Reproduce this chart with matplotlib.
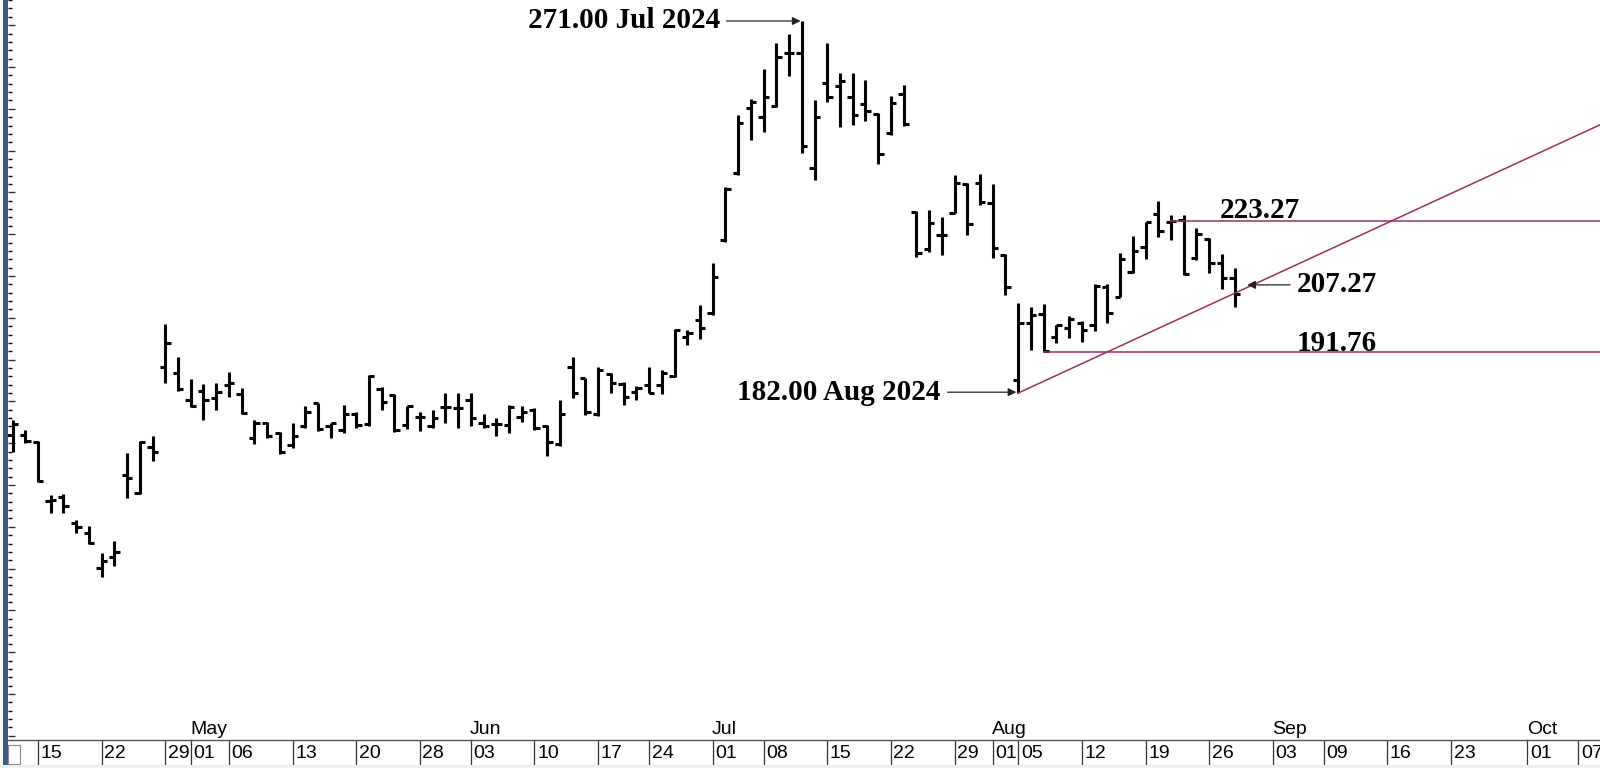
import numpy as np
import matplotlib
matplotlib.use('Agg')
import matplotlib.pyplot as plt
import matplotlib.transforms as mtransforms
from matplotlib import font_manager
from matplotlib.patches import Rectangle
from matplotlib.ticker import MultipleLocator

# daily OHLC bars, Apr 11 - Aug 28 2024
dates = ['2024-04-11', '2024-04-12', '2024-04-15', '2024-04-16', '2024-04-17', '2024-04-18',
         '2024-04-19', '2024-04-22', '2024-04-23', '2024-04-24', '2024-04-25', '2024-04-26',
         '2024-04-29', '2024-04-30', '2024-05-01', '2024-05-02', '2024-05-03', '2024-05-06',
         '2024-05-07', '2024-05-08', '2024-05-09', '2024-05-10', '2024-05-13', '2024-05-14',
         '2024-05-15', '2024-05-16', '2024-05-17', '2024-05-20', '2024-05-21', '2024-05-22',
         '2024-05-23', '2024-05-24', '2024-05-28', '2024-05-29', '2024-05-30', '2024-05-31',
         '2024-06-03', '2024-06-04', '2024-06-05', '2024-06-06', '2024-06-07', '2024-06-10',
         '2024-06-11', '2024-06-12', '2024-06-13', '2024-06-14', '2024-06-17', '2024-06-18',
         '2024-06-20', '2024-06-21', '2024-06-24', '2024-06-25', '2024-06-26', '2024-06-27',
         '2024-06-28', '2024-07-01', '2024-07-02', '2024-07-03', '2024-07-05', '2024-07-08',
         '2024-07-09', '2024-07-10', '2024-07-11', '2024-07-12', '2024-07-15', '2024-07-16',
         '2024-07-17', '2024-07-18', '2024-07-19', '2024-07-22', '2024-07-23', '2024-07-24',
         '2024-07-25', '2024-07-26', '2024-07-29', '2024-07-30', '2024-07-31', '2024-08-01',
         '2024-08-02', '2024-08-05', '2024-08-06', '2024-08-07', '2024-08-08', '2024-08-09',
         '2024-08-12', '2024-08-13', '2024-08-14', '2024-08-15', '2024-08-16', '2024-08-19',
         '2024-08-20', '2024-08-21', '2024-08-22', '2024-08-23', '2024-08-26', '2024-08-27',
         '2024-08-28']
opens = [172.0, 171.9, 170.2, 156.2, 157.2, 150.8, 148.4, 140.1, 142.8, 162.4, 158.2, 169.2,
         188.3, 186.9, 180.3, 182.6, 180.8, 183.9, 181.7, 171.2, 174.9, 172.4, 169.6, 174.1,
         179.5, 174.0, 173.1, 177.0, 174.6, 182.9, 181.5, 174.4, 176.3, 174.0, 178.7, 178.3,
         180.3, 174.8, 174.6, 174.4, 176.3, 177.9, 174.0, 169.8, 188.3, 185.5, 177.1, 186.6,
         184.2, 182.3, 183.9, 183.9, 186.1, 195.3, 199.5, 201.1, 218.6, 234.6, 250.1, 248.0,
         250.7, 263.3, 263.4, 235.8, 256.2, 255.4, 252.7, 251.1, 248.7, 244.1, 253.5, 225.4,
         216.4, 219.8, 225.0, 232.0, 232.3, 227.5, 215.0, 185.0, 198.7, 200.9, 195.5, 197.5,
         198.8, 198.3, 207.4, 204.9, 211.0, 217.0, 224.8, 223.0, 223.3, 214.2, 218.8, 213.0,
         209.4]
highs = [175.5, 173.2, 170.5, 157.6, 157.8, 151.6, 150.3, 143.7, 146.6, 167.6, 170.5, 171.8,
         198.5, 190.5, 185.3, 184.2, 184.3, 187.1, 183.1, 175.5, 175.0, 172.7, 174.9, 178.9,
         179.7, 174.9, 179.1, 177.5, 186.3, 183.4, 181.8, 178.9, 177.5, 177.9, 182.1, 181.9,
         182.1, 177.1, 176.0, 179.1, 178.9, 178.3, 174.4, 180.3, 190.5, 185.7, 188.3, 186.9,
         184.7, 183.7, 188.3, 187.5, 197.2, 197.1, 203.1, 213.0, 231.2, 248.5, 252.3, 259.5,
         265.7, 267.8, 271.0, 252.0, 265.7, 258.6, 258.6, 257.0, 248.9, 253.1, 255.7, 225.6,
         225.8, 224.2, 234.2, 232.2, 234.4, 232.0, 215.3, 203.5, 202.6, 203.3, 198.3, 200.4,
         199.3, 208.1, 208.1, 215.6, 219.6, 223.0, 228.0, 224.6, 224.6, 221.4, 219.0, 215.3,
         211.8]
lows = [167.9, 170.0, 160.8, 153.2, 153.3, 148.5, 145.9, 138.1, 140.5, 156.8, 157.8, 165.8,
        184.3, 182.6, 178.6, 175.5, 177.9, 181.1, 177.1, 169.8, 171.2, 167.4, 168.8, 173.6,
        173.0, 171.2, 172.5, 173.6, 174.1, 177.9, 172.7, 173.3, 173.0, 173.6, 174.9, 173.6,
        174.0, 173.6, 171.6, 172.4, 175.1, 173.2, 166.9, 169.3, 180.7, 176.7, 176.5, 181.9,
        179.1, 180.3, 181.9, 181.8, 185.9, 193.5, 194.9, 200.7, 218.1, 234.2, 242.5, 244.5,
        250.5, 257.8, 239.5, 233.0, 251.7, 245.7, 246.1, 247.1, 236.8, 243.7, 245.9, 214.5,
        215.8, 215.0, 225.0, 219.8, 227.0, 214.2, 205.4, 182.0, 192.3, 191.76, 193.9, 195.1,
        194.3, 196.9, 198.7, 204.9, 210.6, 214.0, 219.4, 218.6, 210.2, 213.8, 210.6, 206.8,
        202.5]
closes = [174.6, 170.6, 160.9, 156.4, 155.0, 150.0, 146.2, 141.7, 144.0, 161.6, 170.4, 168.0,
          193.9, 182.9, 178.9, 180.3, 182.3, 184.3, 177.3, 174.9, 171.6, 168.0, 171.6, 177.5,
          173.3, 174.8, 177.1, 174.4, 186.1, 179.9, 173.2, 178.9, 176.2, 176.0, 178.7, 178.3,
          176.0, 174.1, 174.6, 178.6, 177.5, 173.6, 170.4, 177.1, 182.1, 177.5, 187.4, 184.5,
          181.1, 183.1, 182.1, 186.9, 197.1, 196.3, 197.5, 209.8, 230.8, 246.5, 251.7, 252.9,
          262.3, 263.4, 241.1, 248.1, 252.7, 256.7, 248.5, 249.5, 239.3, 251.5, 246.4, 215.4,
          222.6, 219.8, 232.2, 222.4, 227.8, 216.6, 207.4, 198.7, 200.7, 192.0, 198.3, 199.6,
          197.1, 207.6, 201.1, 214.0, 216.0, 222.8, 220.8, 223.2, 210.5, 220.0, 213.0, 209.4,
          205.7]

# date strip
band_dates = ['2024-04-15', '2024-04-22', '2024-04-29', '2024-05-01', '2024-05-06', '2024-05-13',
              '2024-05-20', '2024-05-28', '2024-06-03', '2024-06-10', '2024-06-17', '2024-06-24',
              '2024-07-01', '2024-07-08', '2024-07-15', '2024-07-22', '2024-07-29', '2024-08-01',
              '2024-08-05', '2024-08-12', '2024-08-19', '2024-08-26', '2024-09-03', '2024-09-09',
              '2024-09-16', '2024-09-23', '2024-10-01', '2024-10-07']
month_dates = ['2024-05-01', '2024-06-03', '2024-07-01', '2024-08-01', '2024-09-03', '2024-10-01']
month_names = ['May', 'Jun', 'Jul', 'Aug', 'Sep', 'Oct']
holidays = ['2024-05-27', '2024-06-19', '2024-07-04', '2024-09-02']

# annotations
peak_date, peak_val = '2024-07-11', 271.00
low_date, low_val = '2024-08-05', 182.00
trend_val, trend_date = 207.27, '2024-08-29'
res_val, res_date = 223.27, '2024-08-21'
sup_val, sup_date = 191.76, '2024-08-07'


def tday(d):
    return int(np.busday_count('2024-04-15', d, holidays=holidays))


x = np.array([tday(d) for d in dates])

# condensed sans for the date strip, if there is one
have = {f.name for f in font_manager.fontManager.ttflist}
narrow_name = next((n for n in ['Liberation Sans Narrow', 'DejaVu Sans Condensed', 'Liberation Sans']
                    if n in have), 'DejaVu Sans')
narrow = [narrow_name, 'DejaVu Sans']
date_fs = 14

W, H = 1600, 768
px_day = 12.73
x0_px = 38.0
px_unit = 4.18
left_px, band_top, band_bot = 7.5, 740, 765

fig = plt.figure(figsize=(W / 100, H / 100), dpi=100)
fig.patch.set_facecolor('white')
ax = fig.add_axes([left_px / W, (H - band_top) / H, (W - left_px) / W, band_top / H])
axb = fig.add_axes([left_px / W, (H - band_bot) / H, (W - left_px) / W, (band_bot - band_top) / H],
                   sharex=ax)

xmin = (left_px - x0_px) / px_day
xmax = (W - x0_px) / px_day
ax.set_xlim(xmin, xmax)
ax.set_ylim(271 - (band_top - 21) / px_unit, 271 + 21 / px_unit)

# OHLC bars
tick = 0.42
ax.vlines(x, lows, highs, color='black', lw=2.2, capstyle='butt')
ax.hlines(opens, x - tick, x, color='black', lw=2.2)
ax.hlines(closes, x, x + tick, color='black', lw=2.2)

# lines
line_col = '#9c2d66'
xl = tday(low_date)
slope = (trend_val - low_val) / (tday(trend_date) - xl)
ax.plot([xl, xmax], [low_val, low_val + slope * (xmax - xl)], color=line_col, lw=1.1)
ax.plot([tday(res_date), xmax], [res_val, res_val], color=line_col, lw=1.1)
ax.plot([tday(sup_date), xmax], [sup_val, sup_val], color=line_col, lw=1.1)

lab = dict(family='Liberation Serif', weight='bold', fontsize=21, color='black')
arr = dict(arrowstyle='-|>', color='#222222', lw=0.9, mutation_scale=12, shrinkA=3, shrinkB=0)
xp = tday(peak_date)
ax.annotate(f'{peak_val:.2f} Jul 2024', xy=(xp - 0.1, peak_val), xytext=(xp - 6.45, peak_val),
            ha='right', va='center', arrowprops=dict(arr, relpos=(1, 0.5)), **lab)
ax.annotate(f'{low_val:.2f} Aug 2024', xy=(xl - 0.15, low_val + 0.2), xytext=(xl - 6.1, low_val + 0.2),
            ha='right', va='center', arrowprops=dict(arr, relpos=(1, 0.5)), **lab)
xt = tday(trend_date)
ax.annotate(f'{trend_val:.2f}', xy=(xt, trend_val + 0.6), xytext=(xt + 3.9, trend_val + 0.6),
            ha='left', va='center', arrowprops=dict(arr, relpos=(0, 0.5)), **lab)
ax.text(tday(res_date) + 3.8, res_val + 2.3, f'{res_val:.2f}', ha='left', va='center', **lab)
ax.text(xt + 3.9, sup_val + 2.1, f'{sup_val:.2f}', ha='left', va='center', **lab)

# left price ticks, no labels
ax.yaxis.set_major_locator(MultipleLocator(10))
ax.yaxis.set_minor_locator(MultipleLocator(2))
ax.tick_params(axis='y', which='major', direction='in', length=5, width=1, color='#333333',
               labelleft=False)
ax.tick_params(axis='y', which='minor', direction='in', length=3, width=1, color='black')
ax.tick_params(axis='x', which='both', bottom=False, labelbottom=False)
for s in ax.spines.values():
    s.set_visible(False)

trans = mtransforms.blended_transform_factory(ax.transData, ax.transAxes)
for d, m in zip(month_dates, month_names):
    ax.text(tday(d) - 0.05, 0.003, m, transform=trans, ha='left', va='bottom',
            fontsize=date_fs, family=narrow, color='black')

# date strip
for s in axb.spines.values():
    s.set_visible(False)
axb.spines['top'].set_visible(True)
axb.spines['top'].set_color('#555555')
axb.spines['top'].set_linewidth(1)
axb.set_ylim(0, 1)
axb.tick_params(axis='both', which='both', left=False, bottom=False,
                labelleft=False, labelbottom=False)
tb = mtransforms.blended_transform_factory(axb.transData, axb.transAxes)
for d in band_dates:
    xd = tday(d)
    axb.plot([xd, xd], [0.05, 1], color='#333333', lw=0.9, transform=tb, clip_on=False)
    axb.text(xd + 0.2, 0.45, d[-2:], transform=tb, ha='left', va='center',
             fontsize=date_fs, family=narrow, color='black')

# frame decorations
fig.patches.append(Rectangle((3 / W, (H - band_bot) / H), 4.5 / W, band_bot / H,
                             transform=fig.transFigure, facecolor='#3c5a8a', edgecolor='none'))
fig.patches.append(Rectangle((8 / W, (H - 764) / H), 12 / W, 19 / H, transform=fig.transFigure,
                             facecolor='white', edgecolor='#888888', lw=0.8))
fig.patches.append(Rectangle((0, 0), 1, (H - band_bot) / H, transform=fig.transFigure,
                             facecolor='#eeeeee', edgecolor='none'))

fig.savefig('out.png', dpi=100)
